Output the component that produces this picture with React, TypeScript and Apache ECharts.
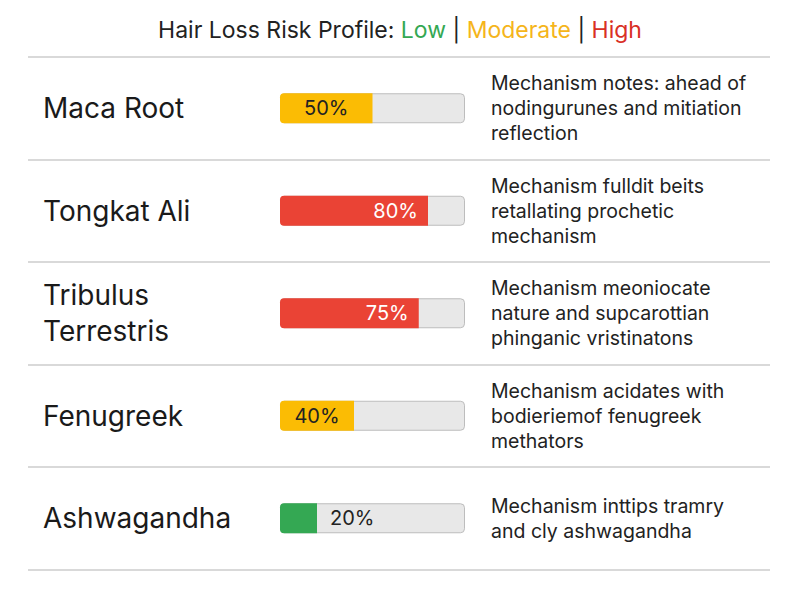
import React, { useEffect, useRef } from "react";
import * as echarts from "echarts";

const herbs = ["Maca Root", "Tongkat Ali", "Tribulus\nTerrestris", "Fenugreek", "Ashwagandha"];
const riskValues = [50, 80, 75, 40, 20];
const riskLevels = ["moderate", "high", "high", "moderate", "low"];
const notes = [
  "Mechanism notes: ahead of\nnodingurunes and mitiation\nreflection",
  "Mechanism fulldit beits\nretallating prochetic\nmechanism",
  "Mechanism meoniocate\nnature and supcarottian\nphinganic vristinatons",
  "Mechanism acidates with\nbodieriemof fenugreek\nmethators",
  "Mechanism inttips tramry\nand cly ashwagandha",
];
const labelPlacement = ["inside", "insideRight", "insideRight", "inside", "right"];

const levelColors: Record<string, string> = {
  low: "#34A853",
  moderate: "#FBBC04",
  high: "#EA4335",
};
const FONT = "Inter, 'Noto Sans', sans-serif";

export default function App() {
  const ref = useRef<HTMLDivElement>(null);
  useEffect(() => {
    if (!ref.current) return;
    const chart = echarts.init(ref.current, null, { renderer: "svg" });
    const top = 57;
    const height = 512.5;
    const rt = (color: string) => ({
      fontSize: 23,
      color,
      fontFamily: FONT,
      fontWeight: "normal",
    });
    chart.setOption({
      animation: false,
      backgroundColor: "#ffffff",
      textStyle: { fontFamily: FONT },
      title: {
        left: "center",
        top: 13,
        text: "{d|Hair Loss Risk Profile: }{g|Low}{d| | }{y|Moderate}{d| | }{r|High}",
        textStyle: {
          fontFamily: FONT,
          fontWeight: "normal",
          rich: {
            d: rt("#222222"),
            g: rt("#34A853"),
            y: rt("#F5B51B"),
            r: rt("#D93025"),
          },
        },
      },
      grid: [
        { left: 28, right: 30, top, height },
        { left: 280, width: 185, top, height },
      ],
      xAxis: [
        { gridIndex: 0, type: "value", min: 0, max: 1, show: false },
        { gridIndex: 1, type: "value", min: 0, max: 100, show: false },
      ],
      yAxis: [
        {
          gridIndex: 0,
          type: "category",
          inverse: true,
          data: herbs,
          axisLine: { show: false },
          axisTick: { show: false },
          splitLine: { show: true, lineStyle: { color: "#cccccc", width: 1.5 } },
          axisLabel: {
            inside: true,
            margin: 15,
            fontSize: 28,
            lineHeight: 36,
            color: "#1a1a1a",
            fontFamily: FONT,
          },
        },
        {
          gridIndex: 1,
          type: "category",
          position: "right",
          inverse: true,
          data: notes,
          axisLine: { show: false },
          axisTick: { show: false },
          splitLine: { show: false },
          axisLabel: {
            margin: 26,
            fontSize: 19.5,
            lineHeight: 25,
            color: "#222222",
            align: "left",
            fontFamily: FONT,
          },
        },
      ],
      series: [
        {
          type: "bar",
          xAxisIndex: 1,
          yAxisIndex: 1,
          barWidth: 30,
          barGap: "-100%",
          silent: true,
          data: riskValues.map(() => 100),
          itemStyle: {
            color: "#E8E8E8",
            borderColor: "#BDBDBD",
            borderWidth: 1,
            borderRadius: 4,
          },
        },
        {
          type: "bar",
          xAxisIndex: 1,
          yAxisIndex: 1,
          barWidth: 30,
          barGap: "-100%",
          data: riskValues.map((v, i) => {
            const lvl = riskLevels[i];
            const pos = labelPlacement[i];
            return {
              value: v,
              itemStyle: {
                color: levelColors[lvl],
                borderRadius: [4, 0, 0, 4],
              },
              label: {
                show: true,
                position: pos,
                distance: pos === "inside" ? 5 : pos === "right" ? 13 : 10,
                formatter: "{c}%",
                fontSize: 20,
                fontFamily: FONT,
                color: lvl === "high" ? "#ffffff" : "#222222",
              },
            };
          }),
        },
      ],
    });
    return () => chart.dispose();
  }, []);
  return (
    <div
      ref={ref}
      style={{ position: "absolute", left: 0, top: 0, width: 800, height: 597 }}
    />
  );
}
